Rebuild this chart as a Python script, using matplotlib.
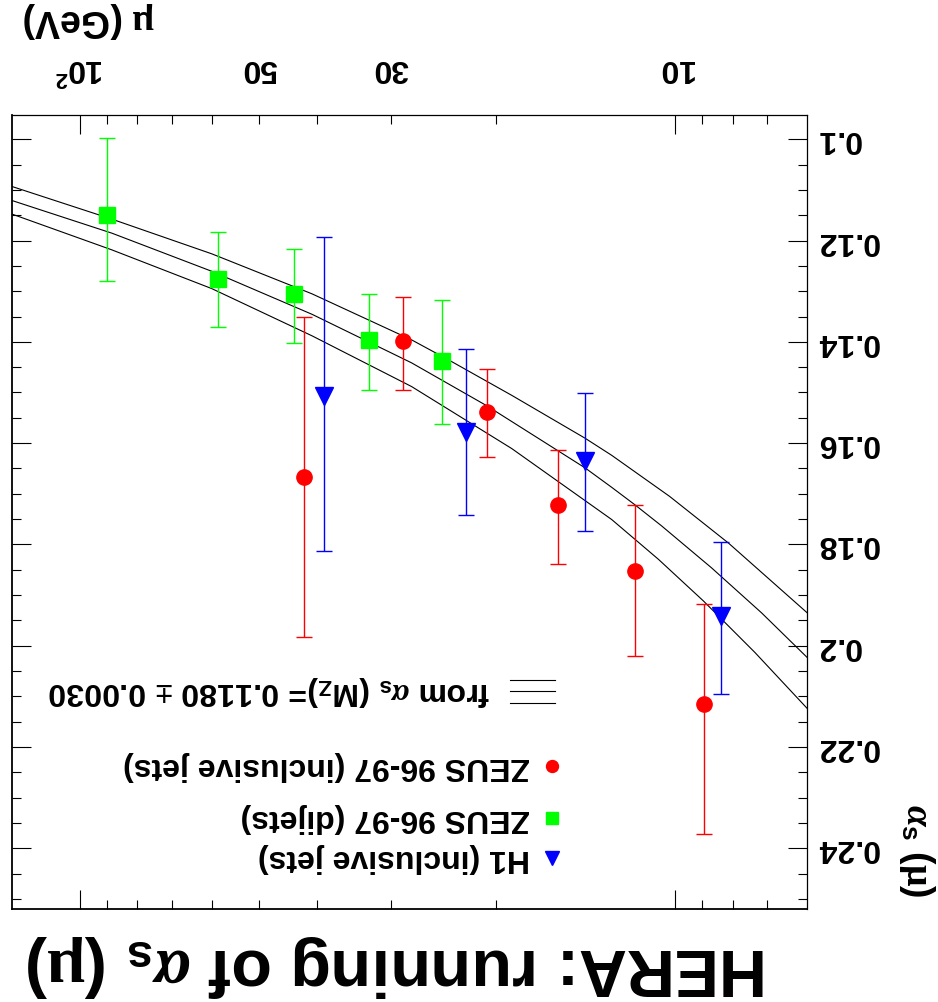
import matplotlib
matplotlib.use("Agg")
import matplotlib.pyplot as plt
from matplotlib.ticker import MultipleLocator

plt.rcParams['font.family'] = ['Liberation Sans', 'DejaVu Sans']
plt.rcParams['font.weight'] = 'bold'
plt.rcParams['mathtext.fontset'] = 'custom'
plt.rcParams['mathtext.rm'] = 'Liberation Serif'
plt.rcParams['mathtext.it'] = 'Liberation Serif:italic'
plt.rcParams['mathtext.bf'] = 'Liberation Sans:bold'

# ---------------- data ----------------
# ZEUS 96-97 (inclusive jets)
zeus_incl_mu = [42.0, 28.6, 20.7, 15.7, 11.65, 8.93]
zeus_incl_as = [0.1666, 0.1398, 0.1539, 0.1723, 0.1852, 0.2115]
zeus_incl_lo = [0.0315, 0.0087, 0.0086, 0.0110, 0.0129, 0.0198]
zeus_incl_hi = [0.0317, 0.0097, 0.0089, 0.0115, 0.0168, 0.0256]

# ZEUS 96-97 (dijets)
zeus_dijet_mu = [90.1, 58.5, 43.6, 32.7, 24.6]
zeus_dijet_as = [0.1149, 0.1276, 0.1306, 0.1396, 0.1437]
zeus_dijet_lo = [0.0152, 0.0092, 0.0090, 0.0090, 0.0120]
zeus_dijet_hi = [0.0130, 0.0095, 0.0096, 0.0099, 0.0125]

# H1 (inclusive jets)
h1_mu = [38.8, 22.4, 14.16, 8.38]
h1_as = [0.1506, 0.1579, 0.1636, 0.1941]
h1_lo = [0.0314, 0.0165, 0.0135, 0.0145]
h1_hi = [0.0307, 0.0163, 0.0137, 0.0155]

# running alpha_s band from alpha_s(M_Z) = 0.1180 +- 0.0030
band_lo_mu = [129.9, 88.3, 59.97, 40.7, 27.7, 23.89, 18.8, 14.16, 12.77, 10.21, 8.125, 5.986]
band_lo_as = [0.10932, 0.11576, 0.12262, 0.13052, 0.13960, 0.14369, 0.15056, 0.15902,
              0.16241, 0.17051, 0.17976, 0.19358]
band_mid_mu = [129.9, 88.3, 59.97, 40.7, 27.7, 20.69, 14.16, 12.77, 11.67, 10.53, 8.679,
               7.152, 5.986]
band_mid_as = [0.11209, 0.11853, 0.12607, 0.13456, 0.14414, 0.15264, 0.16488, 0.16873,
               0.17219, 0.17634, 0.18463, 0.19352, 0.20241]
band_hi_mu = [129.9, 88.3, 59.97, 40.7, 27.7, 18.8, 12.77, 10.66, 8.96, 7.339, 5.986]
band_hi_as = [0.11477, 0.12183, 0.12949, 0.13881, 0.14882, 0.16107, 0.17509, 0.18294,
              0.19115, 0.20134, 0.21248]

x_major = [10, 100]
x_major_labels = ['10', r'$\mathbf{10^{2}}$']
x_minor = [7, 8, 9, 20, 30, 40, 50, 60, 70, 80, 90]
x_minor_labels = ['', '', '', '', '30', '', '50', '', '', '', '']
y_major = [0.10, 0.12, 0.14, 0.16, 0.18, 0.20, 0.22, 0.24]
y_major_labels = ['0.1', '0.12', '0.14', '0.16', '0.18', '0.2', '0.22', '0.24']

title = r'HERA: running of $\alpha_{\mathbf{s}}$ ($\mathrm{\mu}$)'
band_label = r'from $\alpha_{\mathbf{s}}$ (M$_{\mathbf{Z}}$)= 0.1180 $\pm$ 0.0030'
legend_labels = ['ZEUS 96-97 (inclusive jets)', 'ZEUS 96-97 (dijets)', 'H1 (inclusive jets)']

# ---------------- figure ----------------
W, H = 938, 1002
fig = plt.figure(figsize=(W / 100, H / 100), dpi=100)
ax = fig.add_axes([12 / W, 93 / H, 795 / W, 794 / H])

ax.set_xscale('log')
ax.set_xlim(129.9, 6.0)
ax.set_ylim(0.252, 0.0952)

for mu, a in ((band_lo_mu, band_lo_as), (band_mid_mu, band_mid_as), (band_hi_mu, band_hi_as)):
    ax.plot(mu, a, color='black', lw=0.8, zorder=2)

ax.errorbar(zeus_dijet_mu, zeus_dijet_as, yerr=[zeus_dijet_lo, zeus_dijet_hi], fmt='s',
            color='#00ff00', ms=11.2, capsize=5.8, elinewidth=1.0, capthick=1.0, zorder=3)
ax.errorbar(zeus_incl_mu, zeus_incl_as, yerr=[zeus_incl_lo, zeus_incl_hi], fmt='o',
            color='#ff0000', ms=11.0, capsize=5.8, elinewidth=1.0, capthick=1.0, zorder=3)
ax.errorbar(h1_mu, h1_as, yerr=[h1_lo, h1_hi], fmt='v',
            color='#0000ff', ms=13.0, capsize=5.8, elinewidth=1.0, capthick=1.0, zorder=3)

# ticks
ax.set_xticks(x_major, labels=x_major_labels)
ax.set_xticks(x_minor, labels=x_minor_labels, minor=True)
ax.tick_params(axis='x', which='both', direction='in', top=True, bottom=True,
               labeltop=True, labelbottom=False, labelrotation=180, labelsize=23, pad=23)
ax.tick_params(axis='x', which='major', length=13.7, width=0.8)
ax.tick_params(axis='x', which='minor', length=6.8, width=0.8)

ax.set_yticks(y_major, labels=y_major_labels)
ax.yaxis.set_minor_locator(MultipleLocator(0.005))
ax.tick_params(axis='y', which='both', direction='in', left=True, right=True,
               labelleft=False, labelright=True, labelrotation=180, labelsize=23, pad=7)
ax.tick_params(axis='y', which='major', length=13.7, width=0.8)
ax.tick_params(axis='y', which='minor', length=6.8, width=0.8)
for lab in ax.get_yticklabels():
    lab.set_verticalalignment('center')

for s in ('left', 'bottom'):
    ax.spines[s].set_linewidth(1.3)
for s in ('top', 'right'):
    ax.spines[s].set_linewidth(0.9)

# axis titles
ax.set_xlabel(r'$\mathrm{\mu}$ (GeV)', fontsize=27, fontweight='bold', rotation=180,
              ha='center', va='center')
ax.xaxis.set_label_coords(0.097, 1.12)
ax.yaxis.set_label_position('right')
ax.set_ylabel(r'$\alpha_{\mathbf{s}}$ ($\mathrm{\mu}$)', fontsize=27, fontweight='bold',
              rotation=270, ha='center', va='center')
ax.yaxis.label.set_rotation_mode('default')
ax.yaxis.set_label_coords(1.138, 0.074)

# title
fig.text(398 / W, 1 - 966 / H, title, fontsize=48, rotation=180, ha='center', va='center')

# legend (drawn by hand, rotated with the rest of the picture)
tr = ax.transAxes
for yy in (0.2884, 0.2746, 0.2594):
    ax.plot([0.626, 0.683], [yy, yy], color='black', lw=0.8, transform=tr, clip_on=False)
ax.text(0.601, 0.2746, band_label, transform=tr, fontsize=23, rotation=180, ha='right', va='center')

leg_marks = [('o', '#ff0000', 8.6, 0.1801), ('s', '#00ff00', 8.6, 0.1146), ('v', '#0000ff', 9.5, 0.0642)]
for (m, col, ms, yy), lab in zip(leg_marks, legend_labels):
    ax.plot([0.679], [yy], marker=m, color=col, ms=ms, ls='none', transform=tr, clip_on=False)
    ax.text(0.651, yy, lab, transform=tr, fontsize=23, rotation=180, ha='right', va='center')

fig.savefig('out.png', dpi=100)
